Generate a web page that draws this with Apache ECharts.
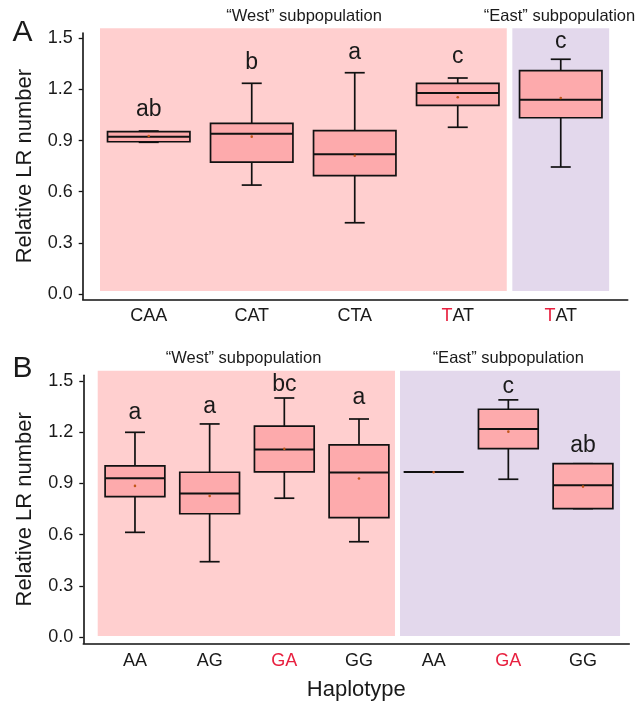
<!DOCTYPE html>
<html>
<head>
<meta charset="utf-8">
<script src="https://cdn.jsdelivr.net/npm/echarts@6/dist/echarts.min.js"></script>
<style>
  html, body { margin: 0; padding: 0; background: #fff; }
  #chart { width: 638px; height: 706px; }
</style>
</head>
<body>
<div id="chart"></div>
<script>
// panel A: three-SNP haplotypes
const catsA = ['CAA', 'CAT', 'CTA', 'TAT', 'TAT']
const redA = [0, 0, 0, 1, 1]
const lowA = [0.890, 0.639, 0.418, 0.978, 0.745]
const q1A = [0.893, 0.774, 0.694, 1.107, 1.034]
const medA = [0.923, 0.940, 0.820, 1.179, 1.140]
const q3A = [0.952, 1.001, 0.958, 1.236, 1.310]
const highA = [0.956, 1.236, 1.298, 1.267, 1.377]
const meanA = [0.927, 0.923, 0.811, 1.154, 1.150]
const lettersA = ['ab', 'b', 'a', 'c', 'c']
const letterYA = [1.079, 1.355, 1.414, 1.394, 1.482]
const regionsA = [[0.527, 4.476, 0.018, 1.559], [4.530, 5.470, 0.018, 1.559]]

// panel B: two-SNP haplotypes
const catsB = ['AA', 'AG', 'GA', 'GG', 'AA', 'GA', 'GG']
const redB = [0, 0, 2, 0, 0, 2, 0]
const lowB = [0.613, 0.441, 0.813, 0.558, 0.967, 0.924, 0.752]
const q1B = [0.822, 0.722, 0.967, 0.699, 0.967, 1.103, 0.752]
const medB = [0.930, 0.840, 1.098, 0.963, 0.967, 1.219, 0.889]
const q3B = [1.002, 0.965, 1.235, 1.125, 0.967, 1.334, 1.015]
const highB = [1.199, 1.248, 1.400, 1.277, 0.967, 1.389, 1.015]
const meanB = [0.885, 0.826, 1.102, 0.928, 0.965, 1.203, 0.881]
const lettersB = ['a', 'a', 'bc', 'a', '', 'c', 'ab']
const letterYB = [1.312, 1.352, 1.478, 1.400, 0, 1.469, 1.121]
const regionsB = [[0.501, 4.482, 0.006, 1.559], [4.549, 7.496, 0.006, 1.559]]

const yTicks = [0, 0.3, 0.6, 0.9, 1.2, 1.5]
const subTitle = ['\u201cWest\u201d subpopulation', '\u201cEast\u201d subpopulation']

const FONT = '"Liberation Sans", Arial, Helvetica, sans-serif'
const INK = '#1a1a1a'
const regionColors = ['#FFCFCF', '#E3D8EC']

function boxRows (low, q1, med, q3, high, mean) {
  return low.map((v, i) => [i + 1, v, q1[i], med[i], q3[i], high[i], mean[i]])
}

function regionRender (params, api) {
  const a = api.coord([api.value(0), api.value(3)])
  const b = api.coord([api.value(1), api.value(2)])
  return {
    type: 'rect',
    shape: { x: a[0], y: a[1], width: b[0] - a[0], height: b[1] - a[1] },
    style: { fill: regionColors[params.dataIndex] }
  }
}

function makeBoxRender (letters, letterY) {
  return function (params, api) {
    const x = api.value(0)
    const at = v => api.coord([x, v])[1]
    const cx = api.coord([x, 0])[0]
    const hw = api.size([0.8, 0])[0] / 2
    const yl = at(api.value(1))
    const y1 = at(api.value(2))
    const ym = at(api.value(3))
    const y3 = at(api.value(4))
    const yh = at(api.value(5))
    const ymean = at(api.value(6))
    const line = { stroke: '#111', lineWidth: 1.7 }
    const kids = [
      { type: 'line', shape: { x1: cx, y1: y3, x2: cx, y2: yh }, style: line },
      { type: 'line', shape: { x1: cx, y1: y1, x2: cx, y2: yl }, style: line },
      { type: 'line', shape: { x1: cx - 10, y1: yh, x2: cx + 10, y2: yh }, style: line },
      { type: 'line', shape: { x1: cx - 10, y1: yl, x2: cx + 10, y2: yl }, style: line },
      {
        type: 'rect',
        shape: { x: cx - hw, y: y3, width: hw * 2, height: y1 - y3 },
        style: { fill: '#FDAAAC', stroke: '#111', lineWidth: 1.7 }
      },
      { type: 'line', shape: { x1: cx - hw, y1: ym, x2: cx + hw, y2: ym }, style: { stroke: '#111', lineWidth: 2 } },
      { type: 'circle', shape: { cx: cx, cy: ymean, r: 1.3 }, style: { fill: '#C2571A' } }
    ]
    const t = letters[params.dataIndex]
    if (t) {
      kids.push({
        type: 'text',
        x: cx,
        y: at(letterY[params.dataIndex]),
        style: { text: t, font: '23px ' + FONT, fill: INK, align: 'center', verticalAlign: 'middle' }
      })
    }
    return { type: 'group', children: kids }
  }
}

function catLabel (cats, red) {
  return function (v) {
    const i = Math.round(v) - 1
    const s = cats[i] || ''
    const n = red[i] || 0
    let out = ''
    if (n) out += '{r|' + s.slice(0, n) + '}'
    if (s.slice(n)) out += '{k|' + s.slice(n) + '}'
    return out
  }
}

const labelRich = {
  r: { color: '#E8203F', fontSize: 18, fontFamily: FONT },
  k: { color: INK, fontSize: 18, fontFamily: FONT }
}

function xAxisFor (gridIndex, min, max, cats, red, margin) {
  const ticks = cats.map((c, i) => i + 1)
  return {
    type: 'value',
    gridIndex: gridIndex,
    min: min,
    max: max,
    splitLine: { show: false },
    axisLine: { onZero: false, lineStyle: { color: '#111', width: 1.6 } },
    axisTick: { show: false },
    axisLabel: {
      customValues: ticks,
      margin: margin,
      formatter: catLabel(cats, red),
      rich: labelRich,
      fontSize: 18,
      fontFamily: FONT,
      color: INK
    }
  }
}

function yAxisFor (gridIndex, min, max) {
  return {
    type: 'value',
    gridIndex: gridIndex,
    min: min,
    max: max,
    name: 'Relative LR number',
    nameLocation: 'middle',
    nameGap: 47,
    nameTextStyle: { fontSize: 22, fontFamily: FONT, color: INK },
    splitLine: { show: false },
    axisLine: { show: true, onZero: false, lineStyle: { color: '#111', width: 1.6 } },
    axisTick: { show: true, customValues: yTicks, length: 4, lineStyle: { color: '#111', width: 1.3 } },
    axisLabel: {
      customValues: yTicks,
      margin: 10,
      formatter: v => v.toFixed(1),
      fontSize: 18,
      fontFamily: FONT,
      color: INK
    }
  }
}

function label (text, x, y, size) {
  return {
    type: 'text',
    x: x,
    y: y,
    style: { text: text, font: size + 'px ' + FONT, fill: INK, align: 'center', verticalAlign: 'middle' }
  }
}

const myChart = echarts.init(document.getElementById('chart'), null, { renderer: 'canvas' })

const options = {
  animation: false,
  backgroundColor: '#fff',
  grid: [
    { left: 82.7, top: 33, width: 545, height: 266.3 },
    { left: 83.3, top: 375.3, width: 546, height: 268 }
  ],
  xAxis: [
    xAxisFor(0, 0.359, 5.650, catsA, redA, 8),
    Object.assign(xAxisFor(1, 0.308, 7.620, catsB, redB, 9), {
      name: 'Haplotype',
      nameLocation: 'middle',
      nameGap: 36,
      nameTextStyle: { fontSize: 22, fontFamily: FONT, color: INK }
    })
  ],
  yAxis: [
    yAxisFor(0, -0.031, 1.531),
    yAxisFor(1, -0.037, 1.533)
  ],
  graphic: [
    label('A', 22.5, 32.5, 30),
    label('B', 22.5, 369, 30),
    label(subTitle[0], 304, 16, 16.5),
    label(subTitle[1], 559.5, 16, 16.5),
    label(subTitle[0], 243.5, 358, 16.5),
    label(subTitle[1], 508.3, 358, 16.5)
  ],
  series: [
    {
      type: 'custom',
      xAxisIndex: 0,
      yAxisIndex: 0,
      clip: false,
      z: 1,
      silent: true,
      renderItem: regionRender,
      data: regionsA
    },
    {
      type: 'custom',
      xAxisIndex: 1,
      yAxisIndex: 1,
      clip: false,
      z: 1,
      silent: true,
      renderItem: regionRender,
      data: regionsB
    },
    {
      type: 'custom',
      xAxisIndex: 0,
      yAxisIndex: 0,
      clip: false,
      z: 3,
      renderItem: makeBoxRender(lettersA, letterYA),
      data: boxRows(lowA, q1A, medA, q3A, highA, meanA)
    },
    {
      type: 'custom',
      xAxisIndex: 1,
      yAxisIndex: 1,
      clip: false,
      z: 3,
      renderItem: makeBoxRender(lettersB, letterYB),
      data: boxRows(lowB, q1B, medB, q3B, highB, meanB)
    }
  ]
}

myChart.setOption(options)
</script>
</body>
</html>
